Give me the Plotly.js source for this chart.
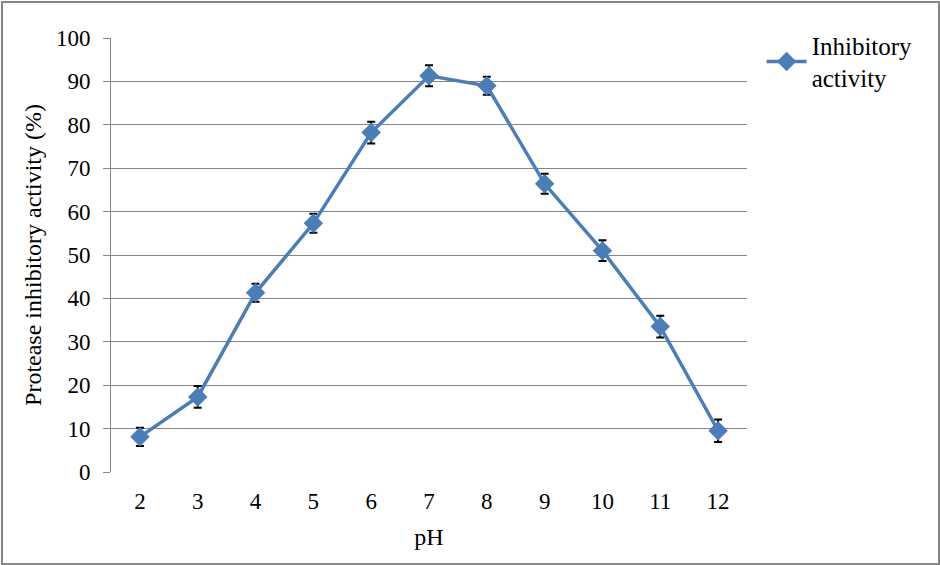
<!DOCTYPE html>
<html>
<head>
<meta charset="utf-8">
<script src="https://cdn.plot.ly/plotly-3.0.1.min.js"></script>
<style>
  html, body { margin: 0; padding: 0; background: #fff; }
  #wrap { position: relative; width: 940px; height: 565px; }
  #chart { width: 940px; height: 565px; }
  #frame { position: absolute; left: 1px; top: 1px; width: 935px; height: 560px;
           border: 2px solid #868686; pointer-events: none; }
</style>
</head>
<body>
<div id="wrap">
  <div id="chart"></div>
  <div id="frame"></div>
</div>
<script>
const pH = [2, 3, 4, 5, 6, 7, 8, 9, 10, 11, 12];
const inhibitoryActivity = [8.1, 17.3, 41.3, 57.3, 78.2, 91.3, 89.0, 66.4, 51.0, 33.5, 9.5];
const errorValues = [2.1, 2.5, 2.1, 2.2, 2.5, 2.4, 2.1, 2.3, 2.4, 2.5, 2.6];
const seriesName = "Inhibitory<br>activity";
const yTicks = [0, 10, 20, 30, 40, 50, 60, 70, 80, 90, 100];

const fam = "Liberation Serif, Times New Roman, serif";
const tickFont = { family: fam, color: "#000", size: 23 };
const titleFont = { family: fam, color: "#000", size: 24 };

const trace = {
  x: pH,
  y: inhibitoryActivity,
  type: "scatter",
  mode: "lines+markers",
  name: seriesName,
  line: { color: "#4a7ebb", width: 3.5 },
  marker: { symbol: "diamond", size: 15, color: "#4a7ebb" },
  error_y: { type: "data", array: errorValues, visible: true, color: "#000", thickness: 2, width: 4 }
};

const layout = {
  width: 940,
  height: 565,
  margin: { l: 111, r: 193, t: 38, b: 93 },
  paper_bgcolor: "#fff",
  plot_bgcolor: "#fff",
  font: tickFont,
  showlegend: true,
  legend: {
    x: 1.023, y: 1.036, xanchor: "left", yanchor: "top",
    font: { family: fam, size: 25, color: "#000" },
    itemwidth: 40, tracegroupgap: 0, bgcolor: "rgba(0,0,0,0)"
  },
  xaxis: {
    range: [1.5, 12.5],
    tickvals: pH,
    ticktext: pH.map(String),
    showgrid: false,
    zeroline: false,
    showline: false,
    ticks: "",
    ticklabelstandoff: 13,
    tickfont: tickFont,
    title: { text: "pH", font: titleFont, standoff: 15 }
  },
  yaxis: {
    range: [0, 100],
    tickvals: yTicks,
    showgrid: true,
    gridcolor: "#868686",
    gridwidth: 1,
    zeroline: false,
    showline: true,
    linecolor: "#868686",
    linewidth: 1,
    ticks: "outside",
    ticklen: 7,
    tickcolor: "#868686",
    ticklabelstandoff: 8,
    tickfont: tickFont,
    title: { text: "Protease inhibitory activity (%)", font: titleFont, standoff: 7 }
  }
};

Plotly.newPlot("chart", [trace], layout, { staticPlot: true, displayModeBar: false });
</script>
</body>
</html>
